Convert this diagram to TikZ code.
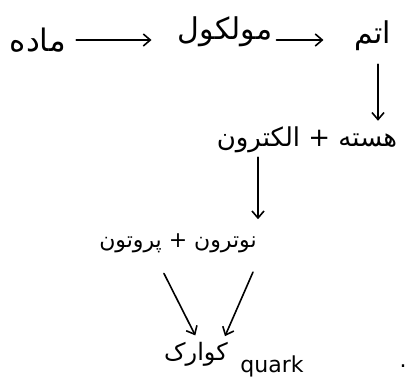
\documentclass[tikz,border=0pt]{standalone}
\usepackage{fontspec}
\setmainfont{DejaVu Sans}
\newfontfamily\fafont[Script=Arabic]{DejaVu Sans}
\TeXXeTstate=1
\usetikzlibrary{arrows.meta}
\newcommand{\fa}[1]{{\fafont\beginR #1\endR}}
\tikzset{
  word/.style={inner sep=1pt, font=\fontsize{#1}{#1}\selectfont},
  word/.default=28,
  pen/.style={line width=1.6pt, line cap=round, -{Straight Barb[length=7pt, width=12pt, line width=1.6pt]}}
}
\begin{document}
\begin{tikzpicture}[x=1pt, y=-1pt]
\useasboundingbox (0,0) rectangle (408,389);
\node[word=31] (madeh) at (38,40) {\fa{ماده}};
\node[word=30] (molecule) at (225,32) {\fa{مولکول}};
\node[word=30] (atom) at (373,36) {\fa{اتم}};
\node[word=26] (elec) at (307,140) {\fa{هسته + الکترون}};
\node[word=22] (pn) at (178,243) {\fa{نوترون + پروتون}};
\node[word=24] (quarkfa) at (196,354) {\fa{کوارک}};
\node[word=22] (quarken) at (272,366) {quark};
\node[word=22] (stop) at (403,366) {.};
\draw[pen] ([xshift=9pt]madeh.east) -- ([xshift=-25pt]madeh.east -| molecule.west);
\draw[pen] ([xshift=3pt]molecule.east |- madeh.east) -- ([xshift=-30pt]atom.west |- madeh.east);
\draw[pen, shorten <=12pt, shorten >=5pt] ([xshift=5pt]atom.south) -- ([xshift=5pt]atom.south |- elec.north);
\draw[pen, shorten <=3pt, shorten >=13pt] ([xshift=-49pt]elec.south) -- ([xshift=-49pt]elec.south |- pn.north);
\draw[pen, shorten <=22pt, shorten >=6pt] ([xshift=-24pt]pn.south) -- ([xshift=2pt]quarkfa.north);
\draw[pen, shorten <=20pt, shorten >=5pt] ([xshift=83pt]pn.south) -- ([xshift=27pt]quarkfa.north);
\end{tikzpicture}
\end{document}
